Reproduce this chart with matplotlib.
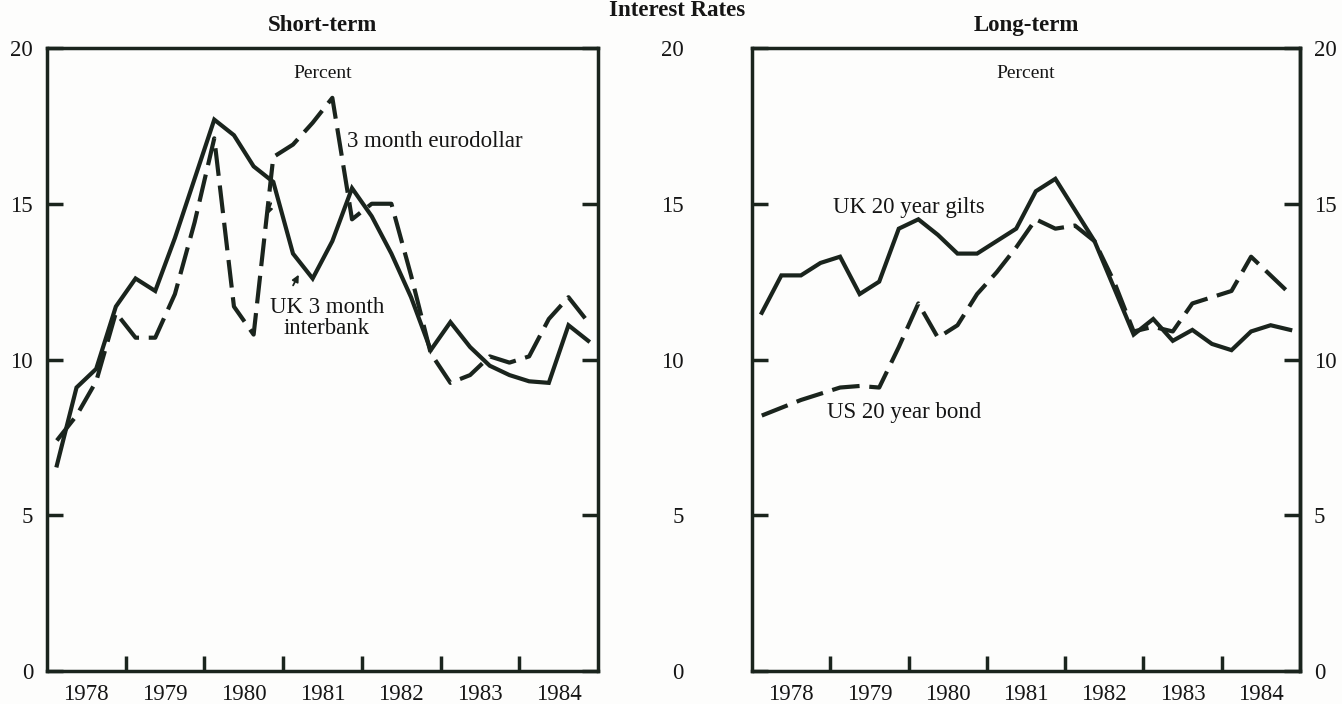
import matplotlib
matplotlib.use("Agg")
import matplotlib.pyplot as plt
import numpy as np

# ---------------- data (quarterly, 1978Q1 .. 1984Q4) ----------------
years = [1978, 1979, 1980, 1981, 1982, 1983, 1984]
quarters = [f"{y}Q{q}" for y in years for q in (1, 2, 3, 4)]

uk_interbank = [6.6, 9.1, 9.7, 11.7, 12.6, 12.2, 13.9, 15.8,
                17.7, 17.2, 16.2, 15.7, 13.4, 12.6, 13.8, 15.5,
                14.6, 13.4, 12.0, 10.3, 11.2, 10.4, 9.8, 9.5,
                9.3, 9.25, 11.1, 10.6]
eurodollar = [7.4, 8.2, 9.3, 11.5, 10.7, 10.7, 12.1, 14.4,
              17.1, 11.7, 10.8, 16.5, 16.9, 17.6, 18.4, 14.5,
              15.0, 15.0, 12.7, 10.2, 9.25, 9.5, 10.1, 9.9,
              10.1, 11.3, 12.0, 11.2]
uk_gilts = [11.5, 12.7, 12.7, 13.1, 13.3, 12.1, 12.5, 14.2,
            14.5, 14.0, 13.4, 13.4, 13.8, 14.2, 15.4, 15.8,
            14.8, 13.8, 12.3, 10.8, 11.3, 10.6, 10.95, 10.5,
            10.3, 10.9, 11.1, 10.95]
us_bond = [8.2, 8.45, 8.7, 8.9, 9.1, 9.15, 9.1, 10.4,
           11.8, 10.7, 11.1, 12.1, 12.8, 13.6, 14.5, 14.2,
           14.3, 13.8, 12.5, 10.9, 11.05, 10.9, 11.8, 12.0,
           12.2, 13.3, 12.7, 12.1]
y_ticks = [0, 5, 10, 15, 20]

# quarter -> decimal year at mid-quarter
t = np.array([int(q[:4]) + (int(q[-1]) - 1) * 0.25 + 0.125 for q in quarters])

# ---------------- style ----------------
plt.rcParams['font.family'] = ['Liberation Serif', 'DejaVu Serif']
plt.rcParams['lines.scale_dashes'] = False
ink = '#1a241d'
txt = '#151515'
LW = 3.0
DASH = (20, 7)
TICK_FS = 16.5
ANN_FS = 16.5

W, H = 1342, 704
fig = plt.figure(figsize=(W / 100, H / 100), dpi=100, facecolor='#fdfdfc')
ax1 = fig.add_axes([47 / W, 1 - 671 / H, 551 / W, 623 / H])
ax2 = fig.add_axes([752 / W, 1 - 671 / H, 548 / W, 623 / H])


def style(ax, labelleft, left_pad):
    ax.set_facecolor('none')
    ax.set_xlim(1978, 1985)
    ax.set_ylim(0, 20)
    for s in ax.spines.values():
        s.set_linewidth(2.5)
        s.set_color(ink)
    ax.set_xticks(range(1979, 1985))
    ax.set_xticklabels([])
    ax.set_xticks([y + 0.5 for y in years], minor=True)
    ax.set_xticklabels([str(y) for y in years], minor=True)
    ax.tick_params(axis='x', which='major', direction='in', length=11,
                   width=2.5, color=ink)
    ax.tick_params(axis='x', which='minor', length=0, pad=9.5,
                   labelsize=TICK_FS, labelcolor=txt)
    ax.set_yticks(y_ticks)
    ax.set_yticklabels([str(v) for v in y_ticks])
    ax.tick_params(axis='y', which='major', direction='in', length=11.5,
                   width=2.5, color=ink, left=True, right=True,
                   labelleft=labelleft, labelright=False, pad=left_pad,
                   labelsize=TICK_FS, labelcolor=txt)


style(ax1, True, 10)
style(ax2, True, 49)
sec = ax2.secondary_yaxis('right')
sec.set_yticks(y_ticks)
sec.set_yticklabels([str(v) for v in y_ticks])
sec.tick_params(direction='in', length=0, pad=10, labelsize=TICK_FS,
                labelcolor=txt)
sec.spines['right'].set_linewidth(2.5)
sec.spines['right'].set_color(ink)

# ---------------- lines ----------------
ax1.plot(t, uk_interbank, color=ink, lw=LW, solid_joinstyle='miter',
         clip_on=False)
ax1.plot(t, eurodollar, color=ink, lw=LW, dashes=DASH,
         dash_capstyle='butt', clip_on=False)
ax2.plot(t, uk_gilts, color=ink, lw=LW, solid_joinstyle='miter',
         clip_on=False)
ax2.plot(t, us_bond, color=ink, lw=LW, dashes=DASH,
         dash_capstyle='butt', clip_on=False)

# ---------------- texts ----------------
fig.text(677 / W, 1 - 16 / H, 'Interest Rates', ha='center', va='baseline',
         fontsize=16.5, fontweight='bold', color=txt)
for ax, title in ((ax1, 'Short-term'), (ax2, 'Long-term')):
    ax.text(0.5, (671 - 31) / 623, title, transform=ax.transAxes,
            ha='center', va='baseline', fontsize=16.5, fontweight='bold',
            color=txt)
    ax.text(0.5, (671 - 78) / 623, 'Percent', transform=ax.transAxes,
            ha='center', va='baseline', fontsize=14, color=txt)

ax1.text((347 - 47) / 551, (671 - 147) / 623, '3 month eurodollar',
         transform=ax1.transAxes, ha='left', va='baseline', fontsize=ANN_FS,
         color=txt)
ax1.text((327 - 47) / 551, (671 - 313) / 623, 'UK 3 month',
         transform=ax1.transAxes, ha='center', va='baseline', fontsize=ANN_FS,
         color=txt)
ax1.text((327 - 47) / 551, (671 - 334) / 623, 'interbank',
         transform=ax1.transAxes, ha='center', va='baseline', fontsize=ANN_FS,
         color=txt)
ax1.annotate('', xy=(1981.215, 12.8), xytext=(1981.11, 12.3),
             arrowprops=dict(arrowstyle='-|>', color=ink, lw=1.3,
                             mutation_scale=10))
ax1.annotate('', xy=(1980.78, 14.55), xytext=(1980.86, 15.1),
             arrowprops=dict(arrowstyle='-|>', color=ink, lw=1.3,
                             mutation_scale=10))

ax2.text((833 - 752) / 548, (671 - 213) / 623, 'UK 20 year gilts',
         transform=ax2.transAxes, ha='left', va='baseline', fontsize=ANN_FS,
         color=txt)
ax2.text((827 - 752) / 548, (671 - 418) / 623, 'US 20 year bond',
         transform=ax2.transAxes, ha='left', va='baseline', fontsize=ANN_FS,
         color=txt)

fig.savefig('out.png', dpi=100, facecolor=fig.get_facecolor())
